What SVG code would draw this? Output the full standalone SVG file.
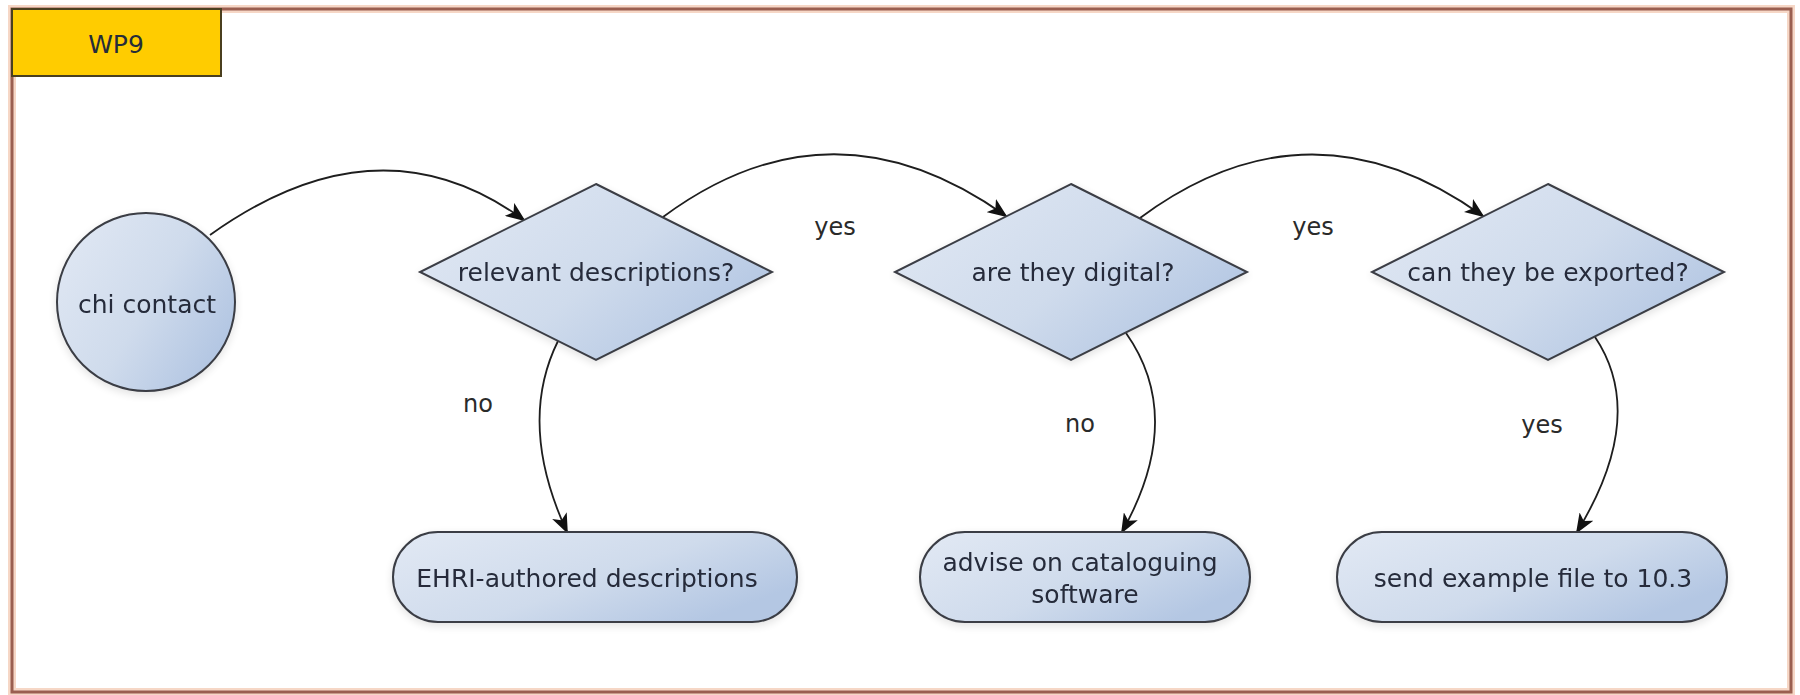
<svg xmlns="http://www.w3.org/2000/svg" width="1800" height="695" viewBox="0 0 1800 695">
<defs>
<linearGradient id="g" x1="0" y1="0" x2="1" y2="0.6">
<stop offset="0" stop-color="#e2e9f4"/>
<stop offset="0.6" stop-color="#cfdbec"/>
<stop offset="1" stop-color="#b4c7e3"/>
</linearGradient>
<marker id="ah" viewBox="0 0 20 16" refX="18" refY="8" markerWidth="20" markerHeight="16" markerUnits="userSpaceOnUse" orient="auto">
<path d="M0,0 L20,8 L0,16 L5,8 z" fill="#111"/>
</marker>
<filter id="sh" x="-10%" y="-10%" width="120%" height="130%">
<feGaussianBlur in="SourceAlpha" stdDeviation="4"/>
<feOffset dx="0" dy="3"/>
<feComponentTransfer><feFuncA type="linear" slope="0.12"/></feComponentTransfer>
<feMerge><feMergeNode/><feMergeNode in="SourceGraphic"/></feMerge>
</filter>
</defs>
<style>
.shape{fill:url(#g);stroke:#3a3d44;stroke-width:2}
.t{font-family:"DejaVu Sans",sans-serif;font-size:25px;fill:#252c3a;text-anchor:middle}
.lbl{font-family:"DejaVu Sans",sans-serif;font-size:24px;fill:#2a2a2a;text-anchor:middle}
.edge{fill:none;stroke:#1e1e1e;stroke-width:1.8;marker-end:url(#ah)}
</style>
<rect x="0" y="0" width="1800" height="695" fill="#ffffff"/>
<g id="frame">
<rect x="12" y="9" width="1779" height="683" fill="none" stroke="#f6d7c6" stroke-width="8"/>
<rect x="12" y="9" width="1779" height="683" fill="none" stroke="#9a5f50" stroke-width="3"/>
</g>
<g id="tab">
<rect x="12" y="9" width="209" height="67" fill="#ffcc00" stroke="#4a3f1f" stroke-width="2"/>
<text class="t" x="116" y="53" font-size="24">WP9</text>
</g>
<g id="connectors">
<path class="edge" d="M210,235 Q379,114 524,220"/>
<path class="edge" d="M663,217 Q832,92 1006,216"/>
<path class="edge" d="M1140,218 Q1310,92 1483,216"/>
<path class="edge" d="M558,341 Q517,424 567,532"/>
<path class="edge" d="M1126,333 Q1186,418 1122,532"/>
<path class="edge" d="M1595,337 Q1648,416 1577,532"/>
<text class="lbl" x="835" y="235">yes</text>
<text class="lbl" x="1313" y="235">yes</text>
<text class="lbl" x="478" y="412">no</text>
<text class="lbl" x="1080" y="432">no</text>
<text class="lbl" x="1542" y="433">yes</text>
</g>
<g id="chi-contact" filter="url(#sh)">
<circle class="shape" cx="146" cy="302" r="89"/>
<text class="t" x="147" y="313">chi contact</text>
</g>
<g id="relevant-descriptions" filter="url(#sh)">
<polygon class="shape" points="596,184 772,272 596,360 420,272"/>
<text class="t" x="596" y="281">relevant descriptions?</text>
</g>
<g id="are-they-digital" filter="url(#sh)">
<polygon class="shape" points="1071,184 1247,272 1071,360 895,272"/>
<text class="t" x="1073" y="281">are they digital?</text>
</g>
<g id="can-they-be-exported" filter="url(#sh)">
<polygon class="shape" points="1548,184 1724,272 1548,360 1372,272"/>
<text class="t" x="1548" y="281">can they be exported?</text>
</g>
<g id="ehri-authored" filter="url(#sh)">
<rect class="shape" x="393" y="532" width="404" height="90" rx="45" ry="45"/>
<text class="t" x="587" y="587">EHRI-authored descriptions</text>
</g>
<g id="advise-cataloguing" filter="url(#sh)">
<rect class="shape" x="920" y="532" width="330" height="90" rx="45" ry="45"/>
<text class="t" x="1080" y="571">advise on cataloguing</text>
<text class="t" x="1085" y="603">software</text>
</g>
<g id="send-example" filter="url(#sh)">
<rect class="shape" x="1337" y="532" width="390" height="90" rx="45" ry="45"/>
<text class="t" x="1533" y="587">send example file to 10.3</text>
</g>
</svg>
